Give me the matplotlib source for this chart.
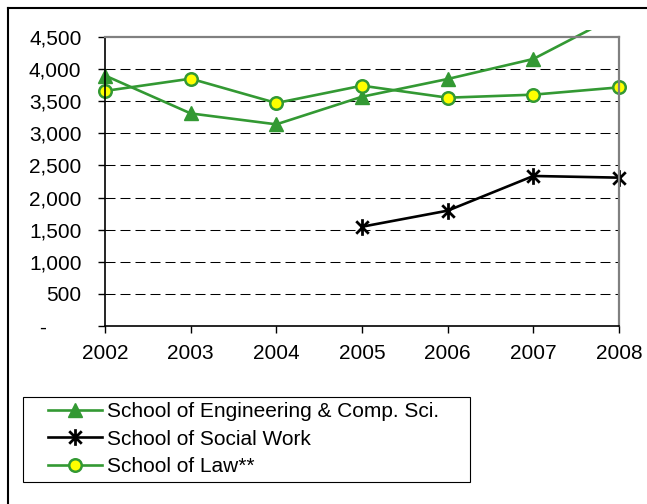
import matplotlib
matplotlib.use("Agg")
import matplotlib.pyplot as plt
from matplotlib.lines import Line2D
from matplotlib.patches import Rectangle
from matplotlib.path import Path
from matplotlib.ticker import FuncFormatter

plt.rcParams["font.family"] = ["Liberation Sans", "DejaVu Sans"]
plt.rcParams["font.size"] = 15

# data
years = [2002, 2003, 2004, 2005, 2006, 2007, 2008]
eng = [3900, 3310, 3140, 3570, 3846, 4158, 4850]
sw_years = [2005, 2006, 2007, 2008]
social = [1546, 1796, 2336, 2310]
law = [3660, 3851, 3472, 3742, 3555, 3602, 3716]
y_ticks = [0, 500, 1000, 1500, 2000, 2500, 3000, 3500, 4000, 4500]

GREEN = "#339933"

# excel-style star: vertical bar plus an X
star = Path([(0, -1), (0, 1), (-0.75, -0.75), (0.75, 0.75), (-0.75, 0.75), (0.75, -0.75)],
            [Path.MOVETO, Path.LINETO] * 3)

fig = plt.figure(figsize=(6.47, 5.04), dpi=100)
ax = fig.add_axes([105 / 647, 1 - 326 / 504, 514 / 647, 289 / 504])

l_eng, = ax.plot(years, eng, color=GREEN, lw=1.9, marker="^", ms=10,
                 mfc=GREEN, mec=GREEN, label="School of Engineering & Comp. Sci.")
# let the engineering line run a little past the top, like the original
clip = Rectangle((-0.05, -0.05), 1.1, 1.074, transform=ax.transAxes,
                 facecolor="none", edgecolor="none")
l_eng.set_clip_path(clip)

ax.plot(sw_years, social, color="black", lw=1.9, marker=star, ms=12,
        mew=2, mec="black", clip_on=False, label="School of Social Work")
ax.plot(years, law, color=GREEN, lw=1.9, marker="o", ms=9, mfc="#ffff00",
        mec=GREEN, mew=1.8, clip_on=False, label="School of Law**")

ax.set_xlim(2002, 2008)
ax.set_ylim(0, 4500)
ax.set_xticks(years)
ax.set_yticks(y_ticks)
ax.yaxis.set_major_formatter(FuncFormatter(
    lambda v, p: "-      " if v == 0 else f"{v:,.0f}"))

for y in y_ticks[1:-1]:
    ax.axhline(y, color="black", lw=0.75, ls=(0, (9.6, 4.8)), zorder=0)

ax.tick_params(axis="y", direction="out", length=5, width=1, pad=12)
ax.tick_params(axis="x", direction="out", length=5, width=1, pad=8)

ax.spines["left"].set_color("black")
ax.spines["bottom"].set_color("black")
ax.spines["left"].set_linewidth(1.2)
ax.spines["bottom"].set_linewidth(1.2)
for s in ["top", "right"]:
    ax.spines[s].set_color("#808080")
    ax.spines[s].set_linewidth(1.6)

# legend box + entries
fig.add_artist(Rectangle((23 / 647, 1 - 482 / 504), 447 / 647, 85 / 504,
                         transform=fig.transFigure, facecolor="white",
                         edgecolor="black", lw=0.8))
fig.legend(loc="upper left", bbox_to_anchor=(48 / 647, 1 - 402 / 504),
           frameon=False, handlelength=2.6, handletextpad=0.25,
           labelspacing=0.42, borderpad=0, borderaxespad=0, fontsize=15)

# outer border (left and top)
fig.add_artist(Line2D([8 / 647, 8 / 647], [0, 1 - 8 / 504], color="black",
                      lw=1.5, transform=fig.transFigure))
fig.add_artist(Line2D([8 / 647, 1], [1 - 8 / 504, 1 - 8 / 504], color="black",
                      lw=1.5, transform=fig.transFigure))

fig.savefig("out.png", dpi=100)
